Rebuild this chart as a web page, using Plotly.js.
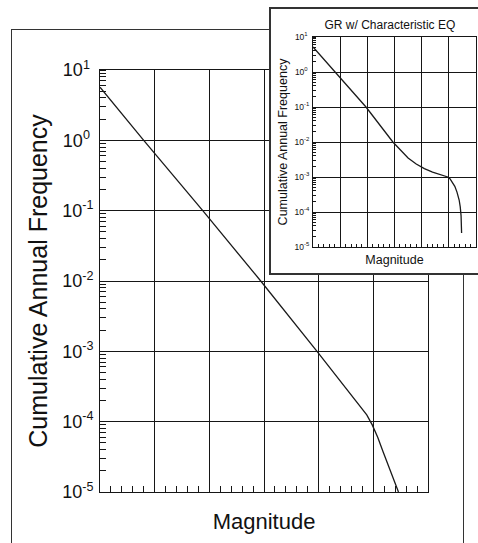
<!DOCTYPE html>
<html>
<head>
<meta charset="utf-8">
<script src="https://cdn.plot.ly/plotly-3.0.1.min.js"></script>
<style>
  html, body { margin: 0; padding: 0; background: #fff; }
  #wrap { position: relative; width: 478px; height: 543px; overflow: hidden; background: #fff; }
  #main { position: absolute; left: 0; top: 0; width: 478px; height: 543px; }
  #frame { position: absolute; left: 11px; top: 29px; width: 451px; height: 600px;
           border: 1.5px solid #333; background: transparent; pointer-events: none; }
  #insetBox { position: absolute; left: 269px; top: 7px; width: 230px; height: 264px;
              border: 2px solid #333; background: #fff; }
  #inset { position: absolute; left: 0; top: 0; width: 215px; height: 264px; }
</style>
</head>
<body>
<div id="wrap">
  <div id="main"></div>
  <div id="frame"></div>
  <div id="insetBox"><div id="inset"></div></div>
</div>
<script>
// ---- Data ----
// Main chart: truncated Gutenberg-Richter curve
var mainMagnitude = [4.00, 4.80, 5.88, 6.94, 7.97, 8.39, 8.62, 8.78, 8.88, 8.98, 9.08, 9.18, 9.28, 9.38, 9.46];
var mainFrequency = [5.7, 1.0, 0.1, 0.01, 1.0e-3, 3.9e-4, 2.3e-4, 1.6e-4, 1.25e-4, 9.0e-5, 6.0e-5, 3.7e-5, 2.3e-5, 1.45e-5, 1.0e-5];

// Inset: GR with characteristic earthquake
var insetMagnitude = [4.00, 4.81, 5.95, 6.94, 7.20, 7.50, 7.80, 8.10, 8.40, 8.70, 8.96, 9.04, 9.13, 9.22, 9.30, 9.38, 9.42, 9.45, 9.47];
var insetFrequency = [5.2, 1.0, 0.1, 0.01, 6.0e-3, 3.5e-3, 2.35e-3, 1.74e-3, 1.38e-3, 1.15e-3, 1.0e-3, 8.9e-4, 7.2e-4, 5.4e-4, 3.7e-4, 2.2e-4, 1.4e-4, 7.9e-5, 2.5e-5];

// Tick labels
var yTickValues = [1e-5, 1e-4, 1e-3, 1e-2, 1e-1, 1, 10];
var yTickLabels = ['10<sup>-5</sup>', '10<sup>-4</sup>', '10<sup>-3</sup>', '10<sup>-2</sup>',
                   '10<sup>-1</sup>', '10<sup>0\u00a0</sup>', '10<sup>1\u00a0</sup>'];
var xRange = [4, 10];

var mainTitleX = 'Magnitude';
var mainTitleY = 'Cumulative Annual Frequency';
var insetTitle = 'GR w/ Characteristic EQ';

// ---- Styling ----
var FONT = '"Liberation Sans", Arial, Helvetica, sans-serif';
var INK = '#161616';

function xAxisDef(titleText, titleSize, standoff, minorLen) {
  return {
    range: xRange, tick0: 4, dtick: 1, tickmode: 'linear',
    showticklabels: false, ticks: '',
    showgrid: true, gridcolor: INK, gridwidth: 1,
    zeroline: false, showline: true, mirror: true, linecolor: INK, linewidth: 1,
    minor: { ticks: 'inside', dtick: 0.2, ticklen: minorLen, tickcolor: INK, tickwidth: 1, showgrid: false },
    title: { text: titleText, font: { family: FONT, size: titleSize, color: '#111' }, standoff: standoff },
    automargin: false, fixedrange: true
  };
}
function yAxisDef(titleText, titleSize, standoff, tickSize, minorLen, labelStandoff) {
  return {
    type: 'log', range: [-5, 1],
    tickmode: 'array', tickvals: yTickValues, ticktext: yTickLabels,
    ticks: '', tickfont: { family: FONT, size: tickSize, color: '#111' },
    ticklabelstandoff: labelStandoff,
    showgrid: true, gridcolor: INK, gridwidth: 1,
    zeroline: false, showline: true, mirror: true, linecolor: INK, linewidth: 1,
    minor: { ticks: 'inside', dtick: 'D1', ticklen: minorLen, tickcolor: INK, tickwidth: 1, showgrid: false },
    title: { text: titleText, font: { family: FONT, size: titleSize, color: '#111' }, standoff: standoff },
    automargin: false, fixedrange: true
  };
}

var mainTrace = {
  x: mainMagnitude, y: mainFrequency, type: 'scatter', mode: 'lines',
  line: { color: '#1a1a1a', width: 1.3 },
  hoverinfo: 'skip', showlegend: false
};
var mainLayout = {
  width: 478, height: 543,
  margin: { l: 100, r: 50, t: 70, b: 51, pad: 0 },
  paper_bgcolor: '#fff', plot_bgcolor: '#fff',
  font: { family: FONT, color: '#111' },
  showlegend: false,
  xaxis: xAxisDef(mainTitleX, 22, 21, 6),
  yaxis: yAxisDef(mainTitleY, 25, 7, 18, 6, 2)
};

var insetTrace = {
  x: insetMagnitude, y: insetFrequency, type: 'scatter', mode: 'lines',
  line: { color: '#1a1a1a', width: 1.3 },
  hoverinfo: 'skip', showlegend: false
};
var insetLayout = {
  width: 215, height: 264,
  margin: { l: 42, r: 10, t: 28, b: 26, pad: 0 },
  paper_bgcolor: '#fff', plot_bgcolor: '#fff',
  font: { family: FONT, color: '#111' },
  showlegend: false,
  title: { text: insetTitle, font: { family: FONT, size: 12, color: '#111' },
           xref: 'container', x: 0.553, xanchor: 'center',
           yref: 'container', y: 0.939, yanchor: 'middle' },
  xaxis: xAxisDef('Magnitude', 12.5, 8, 3),
  yaxis: yAxisDef('Cumulative Annual Frequency', 12.5, 4, 8.5, 3, 1)
};

var cfg = { staticPlot: true, displayModeBar: false };
Plotly.newPlot('main', [mainTrace], mainLayout, cfg);
Plotly.newPlot('inset', [insetTrace], insetLayout, cfg);
</script>
</body>
</html>
